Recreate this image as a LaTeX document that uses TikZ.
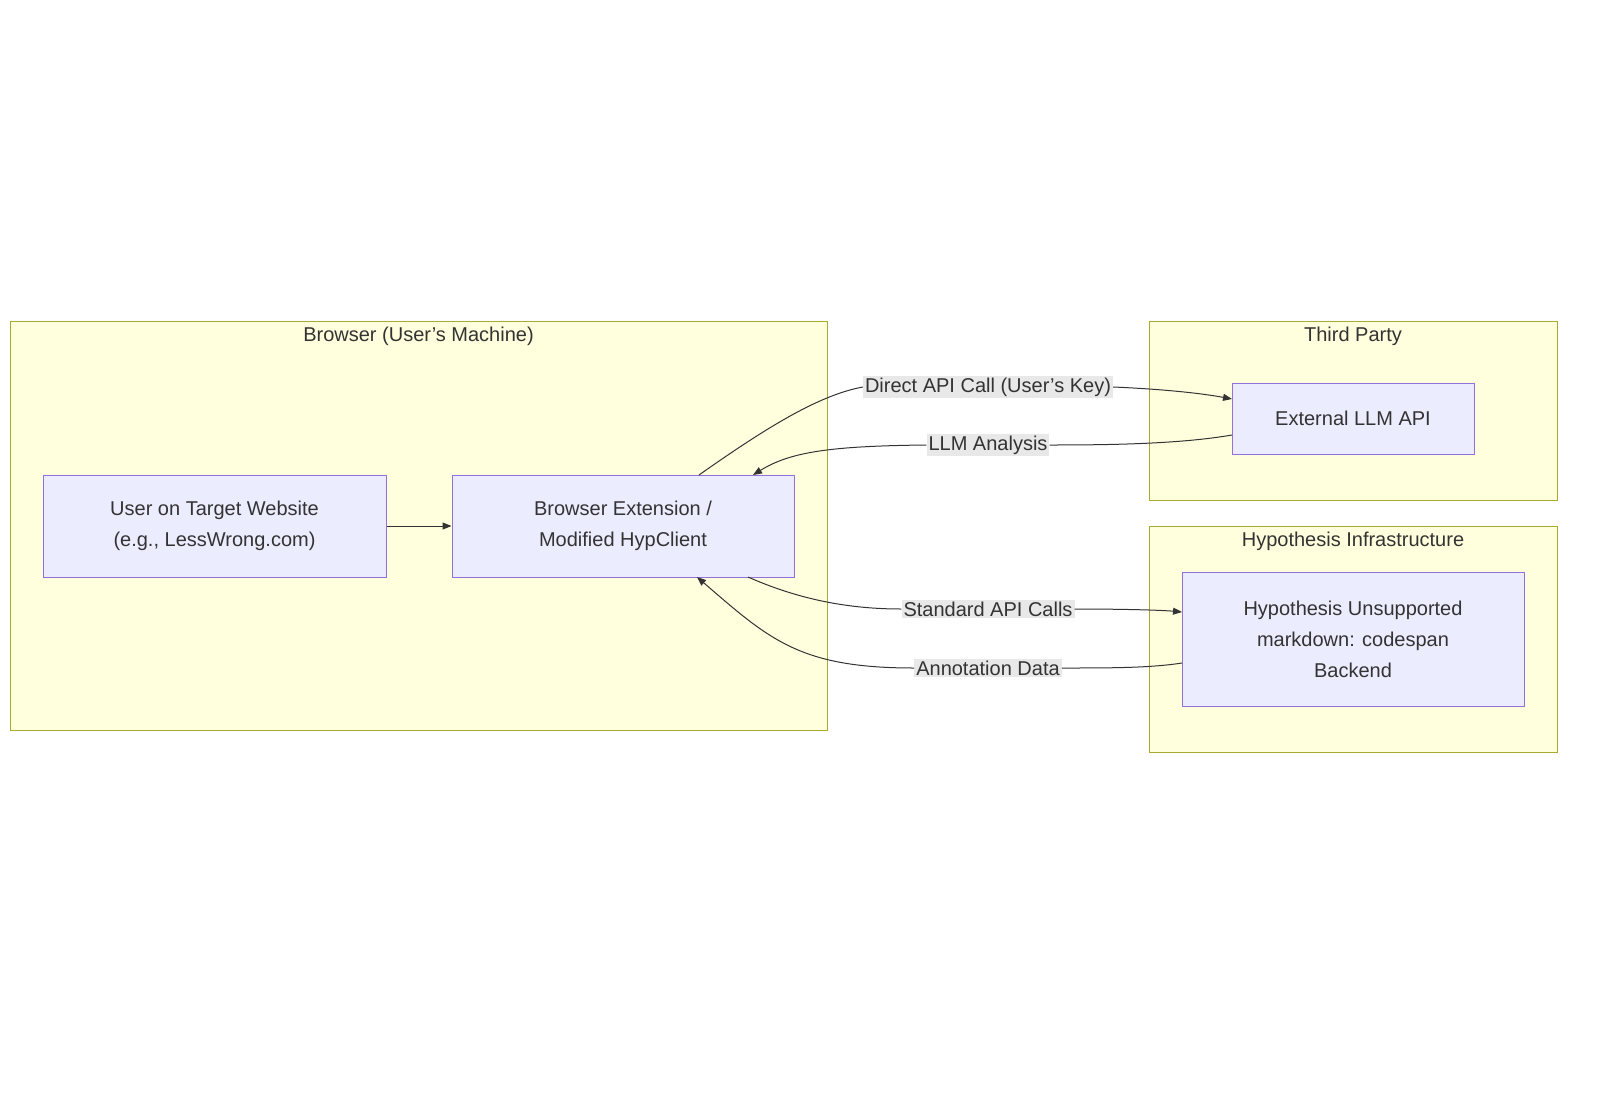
\documentclass[tikz,border=0pt]{standalone}
\usepackage{fontspec}
\setmainfont{Liberation Sans}
\usetikzlibrary{arrows.meta}
\definecolor{cfill}{HTML}{FFFFDE}\definecolor{cline}{HTML}{AAAA33}
\definecolor{nfill}{HTML}{ECECFF}\definecolor{nline}{HTML}{9370DB}
\definecolor{txt}{HTML}{333333}\definecolor{lbl}{HTML}{E8E8E8}
\begin{document}
\begin{tikzpicture}[x=1pt,y=-1pt,
 font=\fontsize{20}{31}\selectfont, text=txt,
 clu/.style={draw=cline,fill=cfill,line width=1pt},
 nd/.style={draw=nline,fill=nfill,line width=1pt},
 ttl/.style={anchor=center},
 lab/.style={fill=lbl,inner sep=2pt,anchor=center},
 ar/.style={draw=txt,line width=1pt,-{Triangle[length=9pt,width=7pt]}}]
\useasboundingbox (0,0) rectangle (1600,1095);
\draw[clu] (10,321) rectangle (827,730);
\draw[clu] (1149,321) rectangle (1557,500);
\draw[clu] (1149,526) rectangle (1557,752);
\node[ttl] (t1) at (418.5,336) {Browser (User's Machine)};
\node[ttl] (t2) at (1353,336) {Third Party};
\node[ttl] (t3) at (1353,541) {Hypothesis Infrastructure};
\node[nd,minimum width=343pt,minimum height=102pt,align=center] (user) at (214.5,526) {User on Target Website\\(e.g., LessWrong.com)};
\node[nd,minimum width=342pt,minimum height=102pt,align=center] (ext) at (623,526) {Browser Extension /\\Modified HypClient};
\node[nd,minimum width=242pt,minimum height=71pt] (llm) at (1353,418.5) {External LLM API};
\node[nd,minimum width=342pt,minimum height=134pt,align=center] (be) at (1353,639) {Hypothesis Unsupported\\markdown: codespan\\Backend};
\draw[ar] (user) -- (ext);
\coordinate (a1) at (699,475);
\coordinate (a2) at (1232,399);
\coordinate (b1) at (1232,435);
\coordinate (b2) at (753,475);
\coordinate (c1) at (748,577);
\coordinate (c2) at (1182,612);
\coordinate (d1) at (1182,663);
\coordinate (d2) at (697,577);
\node[lab] (l1) at (988,387) {Direct API Call (User's Key)};
\node[lab] (l2) at (988,445) {LLM Analysis};
\node[lab] (l3) at (988,609) {Standard API Calls};
\node[lab] (l4) at (988,668) {Annotation Data};
\draw[ar] (a1) .. controls (770,425) and (820,395) .. (l1.west) (l1.east) .. controls (1160,389) and (1200,393) .. (a2);
\draw[ar] (b1) .. controls (1180,444) and (1110,445) .. (l2.east) (l2.west) .. controls (830,446) and (790,452) .. (b2);
\draw[ar] (c1) .. controls (800,600) and (850,609) .. (l3.west) (l3.east) .. controls (1120,609) and (1160,610) .. (c2);
\draw[ar] (d1) .. controls (1150,668) and (1110,668) .. (l4.east) (l4.west) .. controls (800,668) and (770,640) .. (d2);
\end{tikzpicture}
\end{document}
